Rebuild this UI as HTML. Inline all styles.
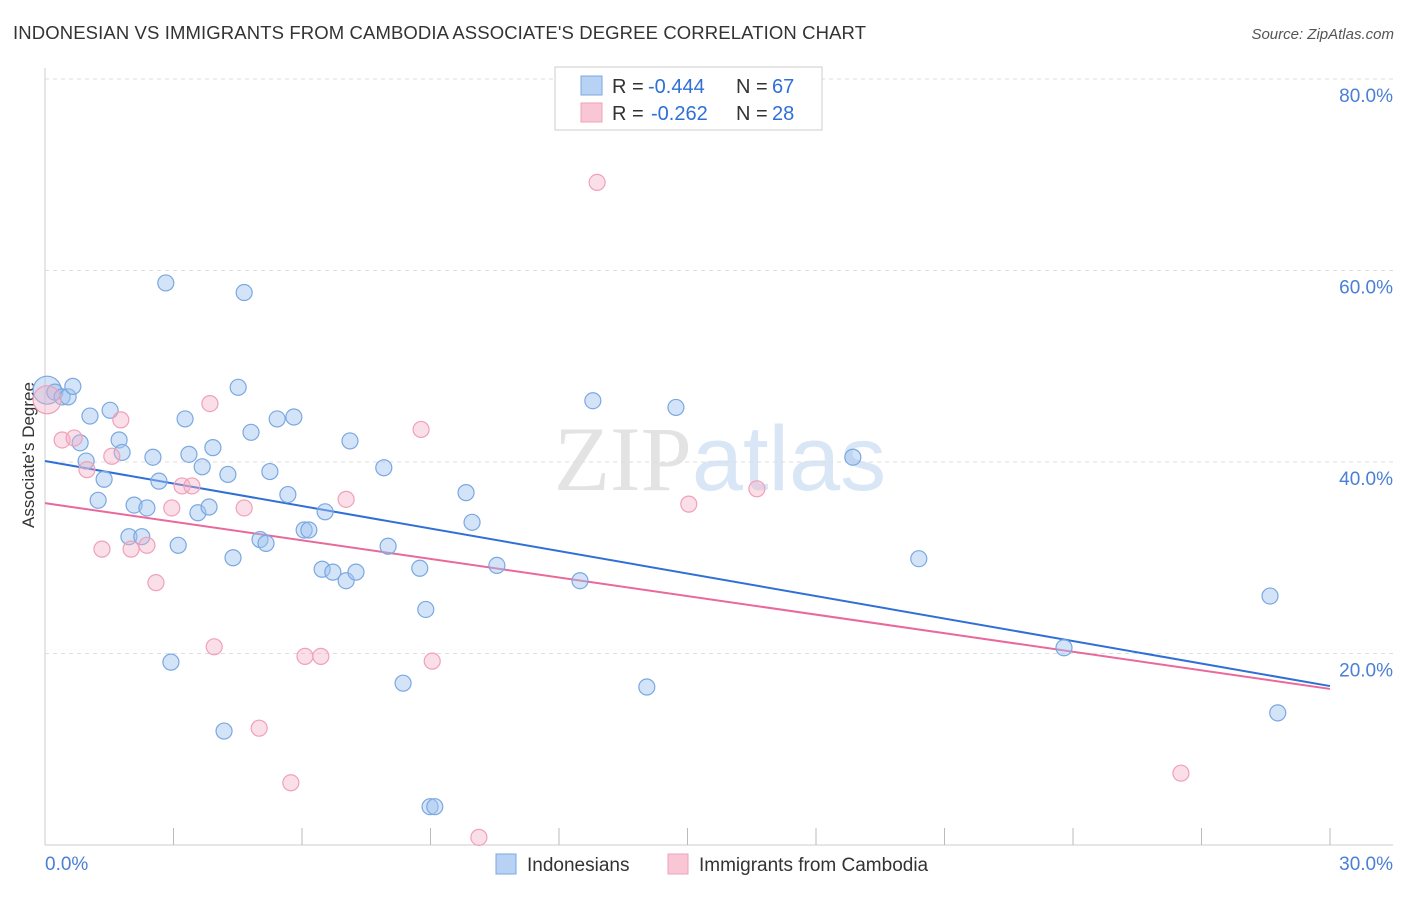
<!DOCTYPE html>
<html><head><meta charset="utf-8"><style>
body{margin:0;background:#fff;font-family:"Liberation Sans",sans-serif}
svg text{font-family:"Liberation Sans",sans-serif}
</style></head><body>
<svg id="chart" width="1406" height="892" xmlns="http://www.w3.org/2000/svg">
<text x="13" y="39" font-size="18.5" fill="#333" textLength="853">INDONESIAN VS IMMIGRANTS FROM CAMBODIA ASSOCIATE'S DEGREE CORRELATION CHART</text>
<text x="1394" y="39" font-size="15" fill="#555" text-anchor="end" font-style="italic">Source: ZipAtlas.com</text>
<text x="720" y="490" font-size="92" text-anchor="middle" fill="#ddd" opacity="0.8"><tspan font-family="Liberation Serif">ZIP</tspan><tspan fill="#cfe0f5">atlas</tspan></text>
<text transform="translate(34,455) rotate(-90)" font-size="17" fill="#333" text-anchor="middle">Associate's Degree</text>
<g id="grid"></g><g id="ticks"></g><g id="lines"></g><g id="pts"></g>
<g>
<rect x="555" y="67" width="267" height="63" fill="#fff" stroke="#ccc"/>
<rect x="581" y="76" width="21" height="19" fill="#b8d2f4" stroke="#7aa8e0"/>
<rect x="581" y="103" width="21" height="19" fill="#f9c6d5" stroke="#f0a0b8"/>
<text x="612" y="93" font-size="20" fill="#333">R =</text>
<text x="648" y="93" font-size="20" fill="#2f6fd6">-0.444</text>
<text x="736" y="93" font-size="20" fill="#333">N =</text>
<text x="772" y="93" font-size="20" fill="#2f6fd6">67</text>
<text x="612" y="120" font-size="20" fill="#333">R =</text>
<text x="651" y="120" font-size="20" fill="#2f6fd6">-0.262</text>
<text x="736" y="120" font-size="20" fill="#333">N =</text>
<text x="772" y="120" font-size="20" fill="#2f6fd6">28</text>
</g>
<g>
<rect x="496" y="854" width="20" height="20" fill="#b8d2f4" stroke="#7aa8e0"/>
<text x="527" y="871" font-size="19" fill="#333">Indonesians</text>
<rect x="668" y="854" width="20" height="20" fill="#f9c6d5" stroke="#f0a0b8"/>
<text x="699" y="871" font-size="19" fill="#333">Immigrants from Cambodia</text>
</g>
</svg>
<script>
const yTicks=[20,40,60,80];
const xTickCount=10;
const blueX=[0.05,0.23,0.40,0.54,0.65,0.82,0.96,1.05,1.24,1.38,1.52,1.73,1.80,1.96,2.08,2.26,2.38,2.52,2.66,2.82,2.94,3.11,3.27,3.36,3.57,3.67,3.83,3.92,4.18,4.27,4.39,4.51,4.65,4.81,5.02,5.16,5.25,5.42,5.67,5.81,6.05,6.16,6.47,6.54,6.72,7.03,7.12,7.26,7.91,8.01,8.36,8.75,8.89,8.99,9.10,9.83,9.97,10.55,12.49,12.79,14.05,14.73,18.86,20.40,23.79,28.60,28.78];
const blueY=[47.5,47.3,46.8,46.8,47.9,42.0,40.1,44.8,36.0,38.2,45.4,42.3,41.0,32.2,35.5,32.2,35.2,40.5,38.0,58.7,19.1,31.3,44.5,40.8,34.7,39.5,35.3,41.5,11.9,38.7,30.0,47.8,57.7,43.1,31.9,31.5,39.0,44.5,36.6,44.7,32.9,32.9,28.8,34.8,28.5,27.6,42.2,28.5,39.4,31.2,16.9,28.9,24.6,4.0,4.0,36.8,33.7,29.2,27.6,46.4,16.5,45.7,40.5,29.9,20.6,26.0,13.8];
const pinkX=[0.05,0.40,0.68,0.98,1.33,1.56,1.77,2.01,2.38,2.59,2.96,3.20,3.43,3.85,3.95,4.65,5.00,5.74,6.07,6.44,7.03,8.78,9.04,10.13,12.89,15.03,16.62,26.52];
const pinkY=[46.5,42.3,42.5,39.2,30.9,40.6,44.4,30.9,31.3,27.4,35.2,37.5,37.5,46.1,20.7,35.2,12.2,6.5,19.7,19.7,36.1,43.4,19.2,0.8,69.2,35.6,37.2,7.5];
const blueTrend=[40.1,16.6];
const pinkTrend=[35.7,16.3];
const X=v=>45+v/30*1285, Y=v=>845-v/20*191.5;
const NS="http://www.w3.org/2000/svg";
function mk(parent,tag,attrs){const e=document.createElementNS(NS,tag);for(const k in attrs)e.setAttribute(k,attrs[k]);document.getElementById(parent).appendChild(e);return e;}
let ax=mk('grid','line',{x1:45,y1:68,x2:45,y2:845,stroke:'#ccc'});


let bx=mk('grid','line',{x1:45,y1:845,x2:1393,y2:845,stroke:'#ccc'});


yTicks.forEach(t=>{
 const g=mk('grid','line',{x1:45,x2:1393,y1:Y(t),y2:Y(t),stroke:'#ddd','stroke-dasharray':'4,4'});
 
 
 const l=mk('ticks','text',{x:1393,y:Y(t)+23,'font-size':19,fill:'#4a7fd4','text-anchor':'end'});
 l.textContent=t.toFixed(1)+'%';
 
 
});
for(let i=1;i<=xTickCount;i++){
 const t=mk('ticks','line',{x1:X(i*3),x2:X(i*3),y1:828,y2:845,stroke:'#bbb'});
 
 
}
const x0=mk('ticks','text',{x:45,y:870,'font-size':19,fill:'#4a7fd4'});x0.textContent='0.0%';


const x1=mk('ticks','text',{x:1393,y:870,'font-size':19,fill:'#4a7fd4','text-anchor':'end'});x1.textContent='30.0%';


function pts(xs,ys,fill,stroke,name){xs.forEach((x,i)=>{
 const c=mk('pts','circle',{cx:X(x),cy:Y(ys[i]),r:i===0?14:8,fill:fill,stroke:stroke,'stroke-width':1.2});
 
 
});}
pts(blueX,blueY,'rgba(160,195,240,0.45)','#7aa8e0','indonesian-point');
pts(pinkX,pinkY,'rgba(245,175,198,0.4)','#f0a0b8','cambodia-point');
const bl=mk('lines','line',{x1:X(0),y1:Y(blueTrend[0]),x2:X(30),y2:Y(blueTrend[1]),stroke:'#2f6fd6','stroke-width':2});


const pl=mk('lines','line',{x1:X(0),y1:Y(pinkTrend[0]),x2:X(30),y2:Y(pinkTrend[1]),stroke:'#e8699a','stroke-width':2});


</script>
</body></html>
